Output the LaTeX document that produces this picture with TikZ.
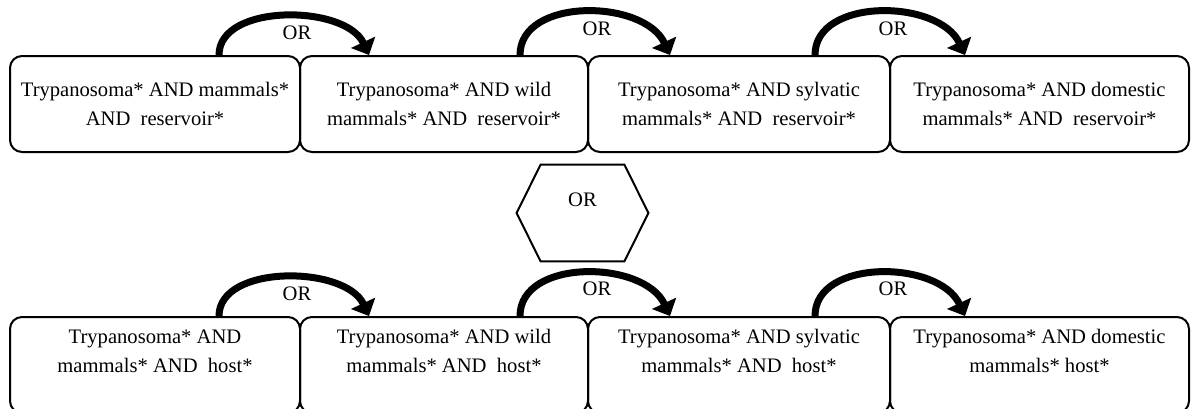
\documentclass[tikz,border=0pt]{standalone}
\usepackage{fontspec}
\setmainfont{Liberation Serif}
\usetikzlibrary{arrows.meta,calc}
\begin{document}
\begin{tikzpicture}[x=0.5pt,y=-0.5pt,
  box/.style={draw, line width=1pt, rounded corners=6pt, inner sep=0pt, align=center,
    minimum height=48pt, font=\fontsize{10.3pt}{14.5pt}\selectfont},
  lowbox/.style={box, text depth=14pt},
  lbl/.style={inner sep=0pt, font=\fontsize{10.3pt}{12pt}\selectfont},
  orarrow/.style={line width=3.5pt, -{Triangle[length=7pt,width=13pt]}}]
\useasboundingbox (0,0) rectangle (1192,408);

% top row
\node[box, minimum width=145pt] (t1) at (155,104) {Trypanosoma* AND mammals*\\AND~~reservoir*};
\node[box, minimum width=144pt] (t2) at (444,104) {Trypanosoma* AND wild\\mammals* AND~~reservoir*};
\node[box, minimum width=151pt] (t3) at (739,104) {Trypanosoma* AND sylvatic\\mammals* AND~~reservoir*};
\node[box, minimum width=149.5pt] (t4) at (1039.5,104) {Trypanosoma* AND domestic\\mammals* AND~~reservoir*};

% bottom row
\node[lowbox, minimum width=145pt] (b1) at (155,365) {Trypanosoma* AND\\mammals* AND~~host*};
\node[lowbox, minimum width=144pt] (b2) at (444,365) {Trypanosoma* AND wild\\mammals* AND~~host*};
\node[lowbox, minimum width=151pt] (b3) at (739,365) {Trypanosoma* AND sylvatic\\mammals* AND~~host*};
\node[lowbox, minimum width=149.5pt] (b4) at (1039.5,365) {Trypanosoma* AND domestic\\mammals* host*};

% hexagon
\node[lbl, minimum width=65.5pt, minimum height=48pt, text depth=13pt] (hx) at (582.5,213) {OR};
\draw[line width=1pt] (hx.west) -- ([xshift=12pt]hx.north west) -- ([xshift=-12pt]hx.north east)
  -- (hx.east) -- ([xshift=-12pt]hx.south east) -- ([xshift=12pt]hx.south west) -- cycle;

% top arrows
\draw[orarrow] ([xshift=32pt]t1.north) to[out=90,in=115,out distance=26pt,in distance=28pt] ([xshift=-37.5pt]t2.north);
\draw[orarrow] ([xshift=38pt]t2.north) to[out=90,in=115,out distance=29pt,in distance=31pt] ([xshift=-34.5pt]t3.north);
\draw[orarrow] ([xshift=38pt]t3.north) to[out=90,in=115,out distance=29pt,in distance=31pt] ([xshift=-37.25pt]t4.north);

% bottom arrows
\draw[orarrow] ([xshift=32pt]b1.north) to[out=90,in=115,out distance=26pt,in distance=28pt] ([xshift=-37.5pt]b2.north);
\draw[orarrow] ([xshift=38pt]b2.north) to[out=90,in=115,out distance=29pt,in distance=31pt] ([xshift=-34.5pt]b3.north);
\draw[orarrow] ([xshift=38pt]b3.north) to[out=90,in=115,out distance=29pt,in distance=31pt] ([xshift=-37.25pt]b4.north);

% OR labels
\node[lbl] (o1) at (297,33) {OR};
\node[lbl] (o2) at (597,29) {OR};
\node[lbl] (o3) at (893,29) {OR};
\node[lbl] (o4) at (297,294) {OR};
\node[lbl] (o5) at (597,289) {OR};
\node[lbl] (o6) at (893,289) {OR};
\end{tikzpicture}
\end{document}
